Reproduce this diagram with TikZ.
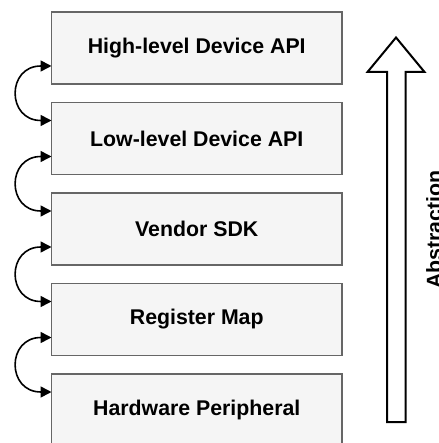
\documentclass[tikz,border=0pt]{standalone}
\usepackage{fontspec}
\setmainfont{Liberation Sans}
\usetikzlibrary{arrows.meta,calc}
\definecolor{boxfill}{HTML}{F5F5F5}
\definecolor{boxline}{HTML}{666666}
\tikzset{
  layerbox/.style={draw=boxline, fill=boxfill, line width=1.3pt, minimum width=290.5pt, minimum height=72pt, inner sep=0pt, outer sep=0pt, anchor=north west, font=\fontsize{21.3}{25}\selectfont\bfseries},
  conn/.style={line width=1.6pt, {Triangle[length=11pt,width=11pt]}-{Triangle[length=11pt,width=11pt]}},
  bigarrow/.style={draw=black, fill=white, line width=2pt, line join=miter},
  label/.style={font=\fontsize{21.3}{25}\selectfont\bfseries, rotate=90, anchor=base, inner sep=0pt}
}
\begin{document}
\begin{tikzpicture}[x=1pt,y=-1pt]
\useasboundingbox (0,0) rectangle (438,443);
\node[layerbox] (b1) at (51.5,12) {High-level Device API};
\node[layerbox] (b2) at (51.5,102.5) {Low-level Device API};
\node[layerbox] (b3) at (51.5,193) {Vendor SDK};
\node[layerbox] (b4) at (51.5,283.5) {Register Map};
\node[layerbox] (b5) at (51.5,374) {Hardware Peripheral};
\foreach \a/\b in {b1/b2,b2/b3,b3/b4,b4/b5}{
  \draw[conn] ($(\a.south west)+(0,-18)$) .. controls +(-45,0) and +(-45,0) .. ($(\b.north west)+(0,18)$);
}
\draw[bigarrow] (387,422) -- (387,72) -- (367.5,72) -- (396,37.5) -- (424.5,72) -- (405.5,72) -- (405.5,422) -- cycle;
\node[label] (abs) at (441.5,229.5) {Abstraction};
\end{tikzpicture}
\end{document}
